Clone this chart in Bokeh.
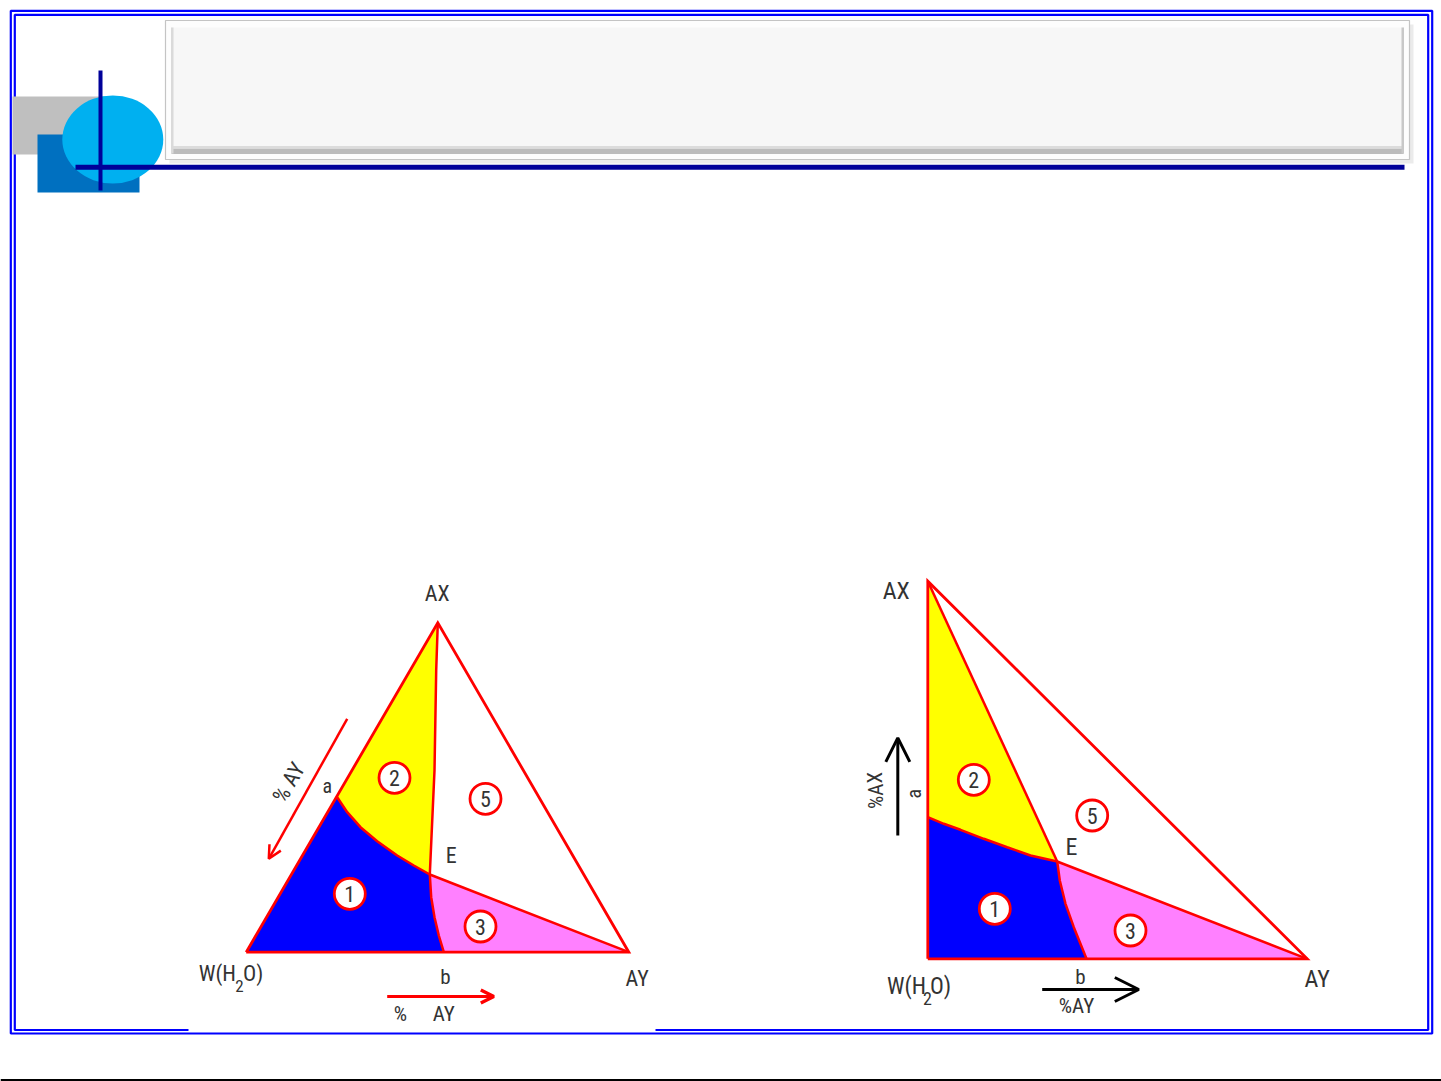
from bokeh.plotting import figure
from bokeh.models import Range1d, Arrow, OpenHead
from bokeh.core.properties import value
from bokeh.embed import file_html
from bokeh.resources import INLINE

FONT = "Roboto Condensed"
TXT = "#333333"
RED = "#ff0000"

# ---------------- left diagram (equilateral) ----------------
L_AX = (437.3, 622.3)
L_W = (245.7, 951.7)
L_AY = (628.3, 951.7)
L_a = (336.7, 796.7)
L_E = (429.3, 874.0)
L_b = (443.3, 951.7)
L_curve_aE_x = [336.7, 346.7, 360.0, 376.7, 396.7, 413.3, 429.3]
L_curve_aE_y = [796.7, 811.7, 826.7, 840.7, 855.0, 865.0, 874.0]
L_curve_Eb_x = [429.3, 430.7, 434.0, 438.3, 443.3]
L_curve_Eb_y = [874.0, 896.7, 916.7, 935.0, 951.7]
L_line_AXE_x = [437.3, 435.7, 434.0, 429.3]
L_line_AXE_y = [622.3, 670.0, 770.0, 874.0]
L_num_x = [349.3, 394.0, 480.0, 485.0]
L_num_y = [893.3, 777.3, 926.0, 798.3]
L_num_t = ["1", "2", "3", "5"]

# ---------------- right diagram (right-angled) ----------------
R_AX = (927.3, 580.7)
R_W = (927.3, 958.3)
R_AY = (1306.7, 958.3)
R_a = (927.3, 816.7)
R_E = (1056.7, 861.0)
R_b = (1086.0, 958.3)
R_curve_aE_x = [927.3, 943.3, 960.0, 983.3, 1006.7, 1030.0, 1056.7]
R_curve_aE_y = [816.7, 823.3, 829.3, 838.3, 846.7, 855.0, 861.0]
R_curve_Eb_x = [1056.7, 1059.3, 1065.0, 1073.3, 1086.0]
R_curve_Eb_y = [861.0, 880.0, 903.3, 926.7, 958.3]
R_num_x = [994.3, 973.3, 1130.0, 1091.7]
R_num_y = [908.3, 779.3, 930.0, 815.0]
R_num_t = ["1", "2", "3", "5"]

p = figure(width=1441, height=1081, output_backend="svg", toolbar_location=None,
           x_range=Range1d(0, 1441), y_range=Range1d(1081, 0), min_border=0,
           background_fill_color="white", border_fill_color="white")
p.outline_line_color = None
p.axis.visible = False
p.grid.visible = False

# ---------------- slide frame ----------------
p.quad(left=[10.3], right=[1431.7], top=[10.3], bottom=[1033.0], fill_color=None,
       line_color="#0000ff", line_width=2.2)
p.quad(left=[14.3], right=[1427.7], top=[14.3], bottom=[1029.5], fill_color=None,
       line_color="#0000ff", line_width=2.2)
p.quad(left=[188], right=[655], top=[1027.8], bottom=[1031.2], fill_color="white", line_color=None)
p.line([0, 1441], [1079.5, 1079.5], line_color="black", line_width=2)

# title box (embossed)
p.quad(left=[169], right=[1413], top=[24], bottom=[163], fill_color="#d8d8d8", fill_alpha=0.5, line_color=None)
p.quad(left=[165], right=[1409], top=[20], bottom=[159], fill_color="#fdfdfd",
       line_color="#c4c4c4", line_width=1.2)
p.quad(left=[171], right=[1403], top=[27], bottom=[153], fill_color="#f7f7f7", line_color=None)
p.quad(left=[171], right=[1403], top=[148], bottom=[153.5], fill_color="#bcbcbc", line_color=None)
p.quad(left=[171], right=[1403], top=[145.5], bottom=[148], fill_color="#dcdcdc", line_color=None)
p.quad(left=[170.5], right=[173], top=[27], bottom=[153], fill_color="#dadada", line_color=None)
p.quad(left=[1401], right=[1403.5], top=[27], bottom=[153], fill_color="#c8c8c8", line_color=None)

# logo
p.quad(left=[12], right=[105], top=[96], bottom=[154], fill_color="#bfbfbf", line_color=None)
p.quad(left=[37], right=[139], top=[134], bottom=[192], fill_color="#0070c0", line_color=None)
p.ellipse(x=[112.3], y=[139], width=101, height=88, fill_color="#00b0f0", line_color=None)
p.quad(left=[75], right=[1404], top=[164.3], bottom=[169.3], fill_color="#000099", line_color=None)
p.quad(left=[98], right=[102], top=[70], bottom=[190], fill_color="#000099", line_color=None)


def diagram(AX, W, AY, a, E, b, aEx, aEy, Ebx, Eby, AXEx, AXEy):
    x1 = [W[0], a[0]] + aEx[1:] + Ebx[1:]
    y1 = [W[1], a[1]] + aEy[1:] + Eby[1:]
    p.patch(x1, y1, fill_color="#0000ff", line_color=None)
    x2 = [a[0]] + AXEx + aEx[::-1][1:]
    y2 = [a[1]] + AXEy + aEy[::-1][1:]
    p.patch(x2, y2, fill_color="#ffff00", line_color=None)
    x3 = [E[0], AY[0]] + Ebx[::-1]
    y3 = [E[1], AY[1]] + Eby[::-1]
    p.patch(x3, y3, fill_color="#ff80ff", line_color=None)
    p.line(aEx, aEy, line_color=RED, line_width=2.5)
    p.line(Ebx, Eby, line_color=RED, line_width=2.5)
    p.line(AXEx, AXEy, line_color=RED, line_width=2.5)
    p.line([E[0], AY[0]], [E[1], AY[1]], line_color=RED, line_width=2.5)
    p.line([W[0], AX[0], AY[0], W[0]], [W[1], AX[1], AY[1], W[1]],
           line_color=RED, line_width=2.8, line_join="miter")


diagram(L_AX, L_W, L_AY, L_a, L_E, L_b, L_curve_aE_x, L_curve_aE_y,
        L_curve_Eb_x, L_curve_Eb_y, L_line_AXE_x, L_line_AXE_y)
diagram(R_AX, R_W, R_AY, R_a, R_E, R_b, R_curve_aE_x, R_curve_aE_y,
        R_curve_Eb_x, R_curve_Eb_y, [R_AX[0], R_E[0]], [R_AX[1], R_E[1]])

for nx, ny, nt in ((L_num_x, L_num_y, L_num_t), (R_num_x, R_num_y, R_num_t)):
    p.circle(x=nx, y=ny, radius=15.5, fill_color="white", line_color=RED, line_width=2.8)
    p.text(x=nx, y=ny, text=nt, text_align="center", text_baseline="middle",
           text_font=value(FONT), text_font_size="22px", text_color=TXT)


def label(x, y, t, size="20px", align="center", angle=0.0, color=TXT):
    p.text(x=[x], y=[y], text=[t], text_align=align, text_baseline="middle", angle=angle,
           text_font=value(FONT), text_font_size=size, text_color=color)


# left labels
label(436.7, 592.7, "AX", "22px")
label(326.7, 785.0, "a", "20px")
label(450.7, 855.0, "E", "22px")
label(445.0, 976.0, "b", "21px")
label(636.7, 978.3, "AY", "22px")
label(235.5, 973.0, "W(H", "22px", align="right")
label(239.0, 985.0, "2", "17px")
label(242.5, 973.0, "O)", "22px", align="left")
label(288.3, 782.0, "% AY", "22px", angle=1.044)
label(400.0, 1013.3, "%", "21px")
label(443.3, 1013.3, "AY", "21px")
p.add_layout(Arrow(end=OpenHead(size=13, line_color=RED, line_width=2.5),
                   x_start=346.7, y_start=718.3, x_end=268.3, y_end=858.3,
                   line_color=RED, line_width=2.5))
p.add_layout(Arrow(end=OpenHead(size=13, line_color=RED, line_width=3.5),
                   x_start=386.7, y_start=996.0, x_end=493.3, y_end=996.0,
                   line_color=RED, line_width=3.0))

# right labels
label(895.7, 590.0, "AX", "24px")
label(1071.0, 846.0, "E", "24px")
label(1080.0, 976.7, "b", "21px")
label(1316.7, 978.3, "AY", "24px")
label(1076.0, 1005.0, "%AY", "21px")
label(925.5, 985.5, "W(H", "23px", align="right")
label(927.0, 998.0, "2", "18px")
label(929.5, 985.5, "O)", "23px", align="left")
label(913.3, 793.3, "a", "20px", angle=1.5708)
label(875.0, 790.0, "%AX", "21px", angle=1.5708)
p.add_layout(Arrow(end=OpenHead(size=24, line_color="black", line_width=3),
                   x_start=897.3, y_start=835.0, x_end=897.3, y_end=737.3,
                   line_color="black", line_width=3))
p.add_layout(Arrow(end=OpenHead(size=24, line_color="black", line_width=3),
                   x_start=1041.7, y_start=989.0, x_end=1138.3, y_end=989.0,
                   line_color="black", line_width=3))

open("out.html", "w").write(file_html(p, INLINE))
